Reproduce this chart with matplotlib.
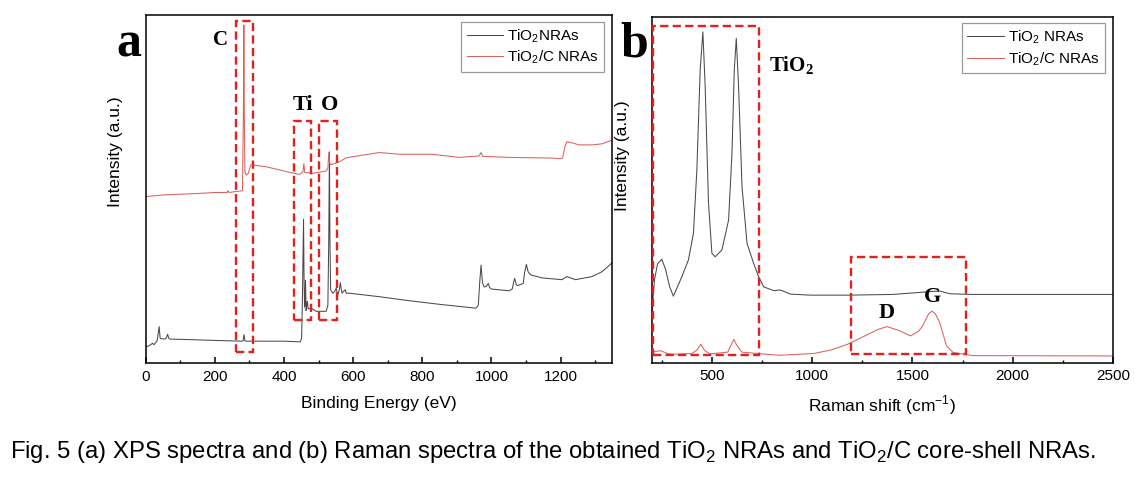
import matplotlib
matplotlib.use("Agg")
import matplotlib.pyplot as plt
from matplotlib.patches import Rectangle
from matplotlib.ticker import MultipleLocator

plt.rcParams['font.family'] = ['Liberation Sans', 'DejaVu Sans']

# ---- (a) XPS survey, intensity in arbitrary units (0..1 of the frame) ----
xps_be_tio2 = [0, 3, 12, 20, 24, 27, 33.5, 39, 42, 46, 56, 60, 63.5, 67, 70, 108,
               205, 277, 282, 284.5, 287, 291, 397, 447, 451, 453, 455, 456.6,
               458, 459.5, 461, 462.3, 464, 466, 467.6, 470, 479, 493, 522, 527,
               529.5, 531.5, 533, 535, 541, 547, 551, 555.5, 560, 563, 566, 568,
               572, 577, 580, 589, 676, 750, 850, 955, 962, 966, 970, 974, 979,
               985, 991, 995, 1000, 1051, 1060, 1067, 1072, 1075, 1092, 1096,
               1101, 1106, 1113, 1147, 1204, 1218, 1243, 1291, 1320, 1344, 1350]
xps_int_tio2 = [0.046, 0.046, 0.05, 0.056, 0.052, 0.055, 0.064, 0.104, 0.07, 0.069,
                0.068, 0.072, 0.082, 0.07, 0.068, 0.067, 0.064, 0.062, 0.063, 0.081,
                0.063, 0.062, 0.062, 0.06, 0.07, 0.16, 0.30, 0.413, 0.25, 0.16,
                0.17, 0.237, 0.15, 0.165, 0.176, 0.155, 0.157, 0.148, 0.148, 0.165,
                0.35, 0.607, 0.35, 0.21, 0.2, 0.205, 0.215, 0.194, 0.21, 0.23,
                0.21, 0.2, 0.205, 0.21, 0.2, 0.2, 0.19, 0.18, 0.168, 0.157, 0.165,
                0.23, 0.281, 0.23, 0.218, 0.22, 0.228, 0.216, 0.212, 0.207, 0.212,
                0.243, 0.225, 0.222, 0.228, 0.26, 0.283, 0.262, 0.253, 0.244,
                0.239, 0.248, 0.239, 0.248, 0.262, 0.283, 0.29]

xps_be_tio2c = [0, 50, 100, 150, 200, 235, 238, 241, 280, 282.5, 284, 285.5, 287,
                291, 297, 301, 305, 310, 349, 387, 407, 445, 455, 457.6, 460, 483,
                522, 527, 529.7, 532, 536, 560, 580, 676, 733, 829, 906, 964, 970,
                975, 1051, 1176, 1200, 1206, 1212, 1218, 1237, 1252, 1291, 1320,
                1344, 1350]
xps_int_tio2c = [0.478, 0.483, 0.485, 0.487, 0.49, 0.49, 0.495, 0.49, 0.495, 0.7,
                 0.972, 0.7, 0.55, 0.54, 0.545, 0.56, 0.57, 0.569, 0.564, 0.555,
                 0.55, 0.542, 0.55, 0.573, 0.548, 0.545, 0.552, 0.56, 0.605, 0.575,
                 0.57, 0.578, 0.59, 0.605, 0.6, 0.6, 0.591, 0.595, 0.605, 0.594,
                 0.591, 0.589, 0.587, 0.59, 0.62, 0.636, 0.632, 0.627, 0.627, 0.63,
                 0.639, 0.64]

# ---- (b) Raman ----
raman_tio2 = [202, 215, 230, 251, 270, 290, 309, 330, 351, 384, 409, 426, 442.5,
              456, 467.5, 484, 501, 517.5, 551, 584, 601, 612.5, 622.5, 634, 651,
              676, 709, 734, 759, 809, 840, 851, 892, 992, 1178, 1400, 1517, 1580,
              1636, 1687, 1800, 2500]
raman_int_tio2 = [0.15, 0.24, 0.285, 0.299, 0.27, 0.22, 0.192, 0.22, 0.248, 0.297,
                  0.374, 0.557, 0.847, 0.957, 0.798, 0.461, 0.316, 0.306, 0.326,
                  0.412, 0.605, 0.847, 0.938, 0.798, 0.509, 0.345, 0.287, 0.248,
                  0.219, 0.208, 0.21, 0.208, 0.198, 0.195, 0.195, 0.197, 0.202,
                  0.205, 0.207, 0.199, 0.197, 0.197]

raman_tio2c = [200, 230, 246, 280, 305, 400, 425, 446, 465, 490, 580, 600, 610, 625,
               650, 670, 750, 839, 1008, 1100, 1178, 1263, 1330, 1373, 1432, 1491,
               1530, 1551, 1580, 1598, 1615, 1636, 1670, 1703, 1800, 2500]
raman_int_tio2c = [0.031, 0.033, 0.034, 0.026, 0.024, 0.026, 0.035, 0.053, 0.035,
                   0.025, 0.03, 0.055, 0.067, 0.05, 0.03, 0.029, 0.025, 0.021, 0.026,
                   0.037, 0.053, 0.077, 0.096, 0.104, 0.093, 0.077, 0.09, 0.106,
                   0.14, 0.149, 0.14, 0.116, 0.048, 0.029, 0.02, 0.019]

# highlighted regions: (x0, x1, y0, y1)
xps_boxes = [(260, 310, 0.032, 0.984), (430, 479, 0.123, 0.697), (501, 553, 0.123, 0.697)]
raman_boxes = [(206, 737, 0.022, 0.975), (1195, 1765, 0.026, 0.306)]

BLACK = '#4a4a4a'
RED = '#d9625f'
BOX = '#e3211c'
SERIF = dict(family='Liberation Serif', weight='bold')

fig = plt.figure(figsize=(11.45, 4.78), dpi=100)
ax1 = fig.add_axes([0.1272, 0.2412, 0.4077, 0.7268])
ax2 = fig.add_axes([0.569, 0.2416, 0.4031, 0.7228])


def style(ax):
    for s in ax.spines.values():
        s.set_linewidth(1.1)
    ax.set_yticks([])
    ax.tick_params(axis='x', which='major', direction='in', length=4, width=1.1,
                   labelsize=11, pad=5)
    ax.tick_params(axis='x', which='minor', direction='in', length=2.3, width=1.0)
    ax.set_ylim(0, 1)


def boxes(ax, rects):
    for x0, x1, y0, y1 in rects:
        ax.add_patch(Rectangle((x0, y0), x1 - x0, y1 - y0, fill=False,
                               edgecolor=BOX, linewidth=1.7, linestyle=(0, (3.5, 1.8)),
                               zorder=3))


def legend(ax, anchor):
    leg = ax.legend(loc='upper right', bbox_to_anchor=anchor, borderaxespad=0,
                    fontsize=11, handlelength=2.4, fancybox=False, edgecolor='#9a9a9a',
                    framealpha=1, borderpad=0.35, labelspacing=0.25, handletextpad=0.25)
    leg.get_frame().set_linewidth(0.9)


# panel a
ax1.plot(xps_be_tio2, xps_int_tio2, color=BLACK, lw=0.75, label='TiO$_\\mathregular{2}$NRAs')
ax1.plot(xps_be_tio2c, xps_int_tio2c, color=RED, lw=0.75, label='TiO$_\\mathregular{2}$/C NRAs')
style(ax1)
ax1.set_xlim(0, 1350)
ax1.xaxis.set_major_locator(MultipleLocator(200))
ax1.xaxis.set_minor_locator(MultipleLocator(100))
ax1.set_xlabel('Binding Energy (eV)', fontsize=12.5, labelpad=9)
ax1.set_ylabel('Intensity (a.u.)', fontsize=12.5)
ax1.yaxis.set_label_coords(-0.049, 0.607)
boxes(ax1, xps_boxes)
ax1.text(216, 0.929, 'C', ha='center', va='center', fontsize=15, **SERIF)
ax1.text(456, 0.742, 'Ti', ha='center', va='center', fontsize=16, **SERIF)
ax1.text(532, 0.742, 'O', ha='center', va='center', fontsize=16, **SERIF)
legend(ax1, (0.9825, 0.9816))

# panel b
ax2.plot(raman_tio2, raman_int_tio2, color=BLACK, lw=0.75, label='TiO$_\\mathregular{2}$ NRAs')
ax2.plot(raman_tio2c, raman_int_tio2c, color=RED, lw=0.75, label='TiO$_\\mathregular{2}$/C NRAs')
style(ax2)
ax2.set_xlim(200, 2500)
ax2.xaxis.set_major_locator(MultipleLocator(500))
ax2.xaxis.set_minor_locator(MultipleLocator(250))
ax2.set_xlabel('Raman shift (cm$^{\\mathregular{-1}}$)', fontsize=12.5, labelpad=7)
ax2.set_ylabel('Intensity (a.u.)', fontsize=12.5)
ax2.yaxis.set_label_coords(-0.047, 0.598)
boxes(ax2, raman_boxes)
ax2.text(784, 0.86, 'TiO$_\\mathregular{2}$', ha='left', va='center', fontsize=15, **SERIF)
ax2.text(1373, 0.143, 'D', ha='center', va='center', fontsize=16, **SERIF)
ax2.text(1598, 0.19, 'G', ha='center', va='center', fontsize=16, **SERIF)
legend(ax2, (0.982, 0.9826))

fig.text(0.1122, 0.8808, 'a', ha='center', va='baseline', fontsize=36, **SERIF)
fig.text(0.5537, 0.8808, 'b', ha='center', va='baseline', fontsize=36, **SERIF)

fig.text(0.0087, 0.0544, 'Fig. 5 (a) XPS spectra and (b) Raman spectra of the obtained '
         'TiO$_\\mathregular{2}$ NRAs and TiO$_\\mathregular{2}$/C core-shell NRAs.',
         ha='left', va='center', fontsize=17.2)

fig.savefig('out.png', dpi=100)
